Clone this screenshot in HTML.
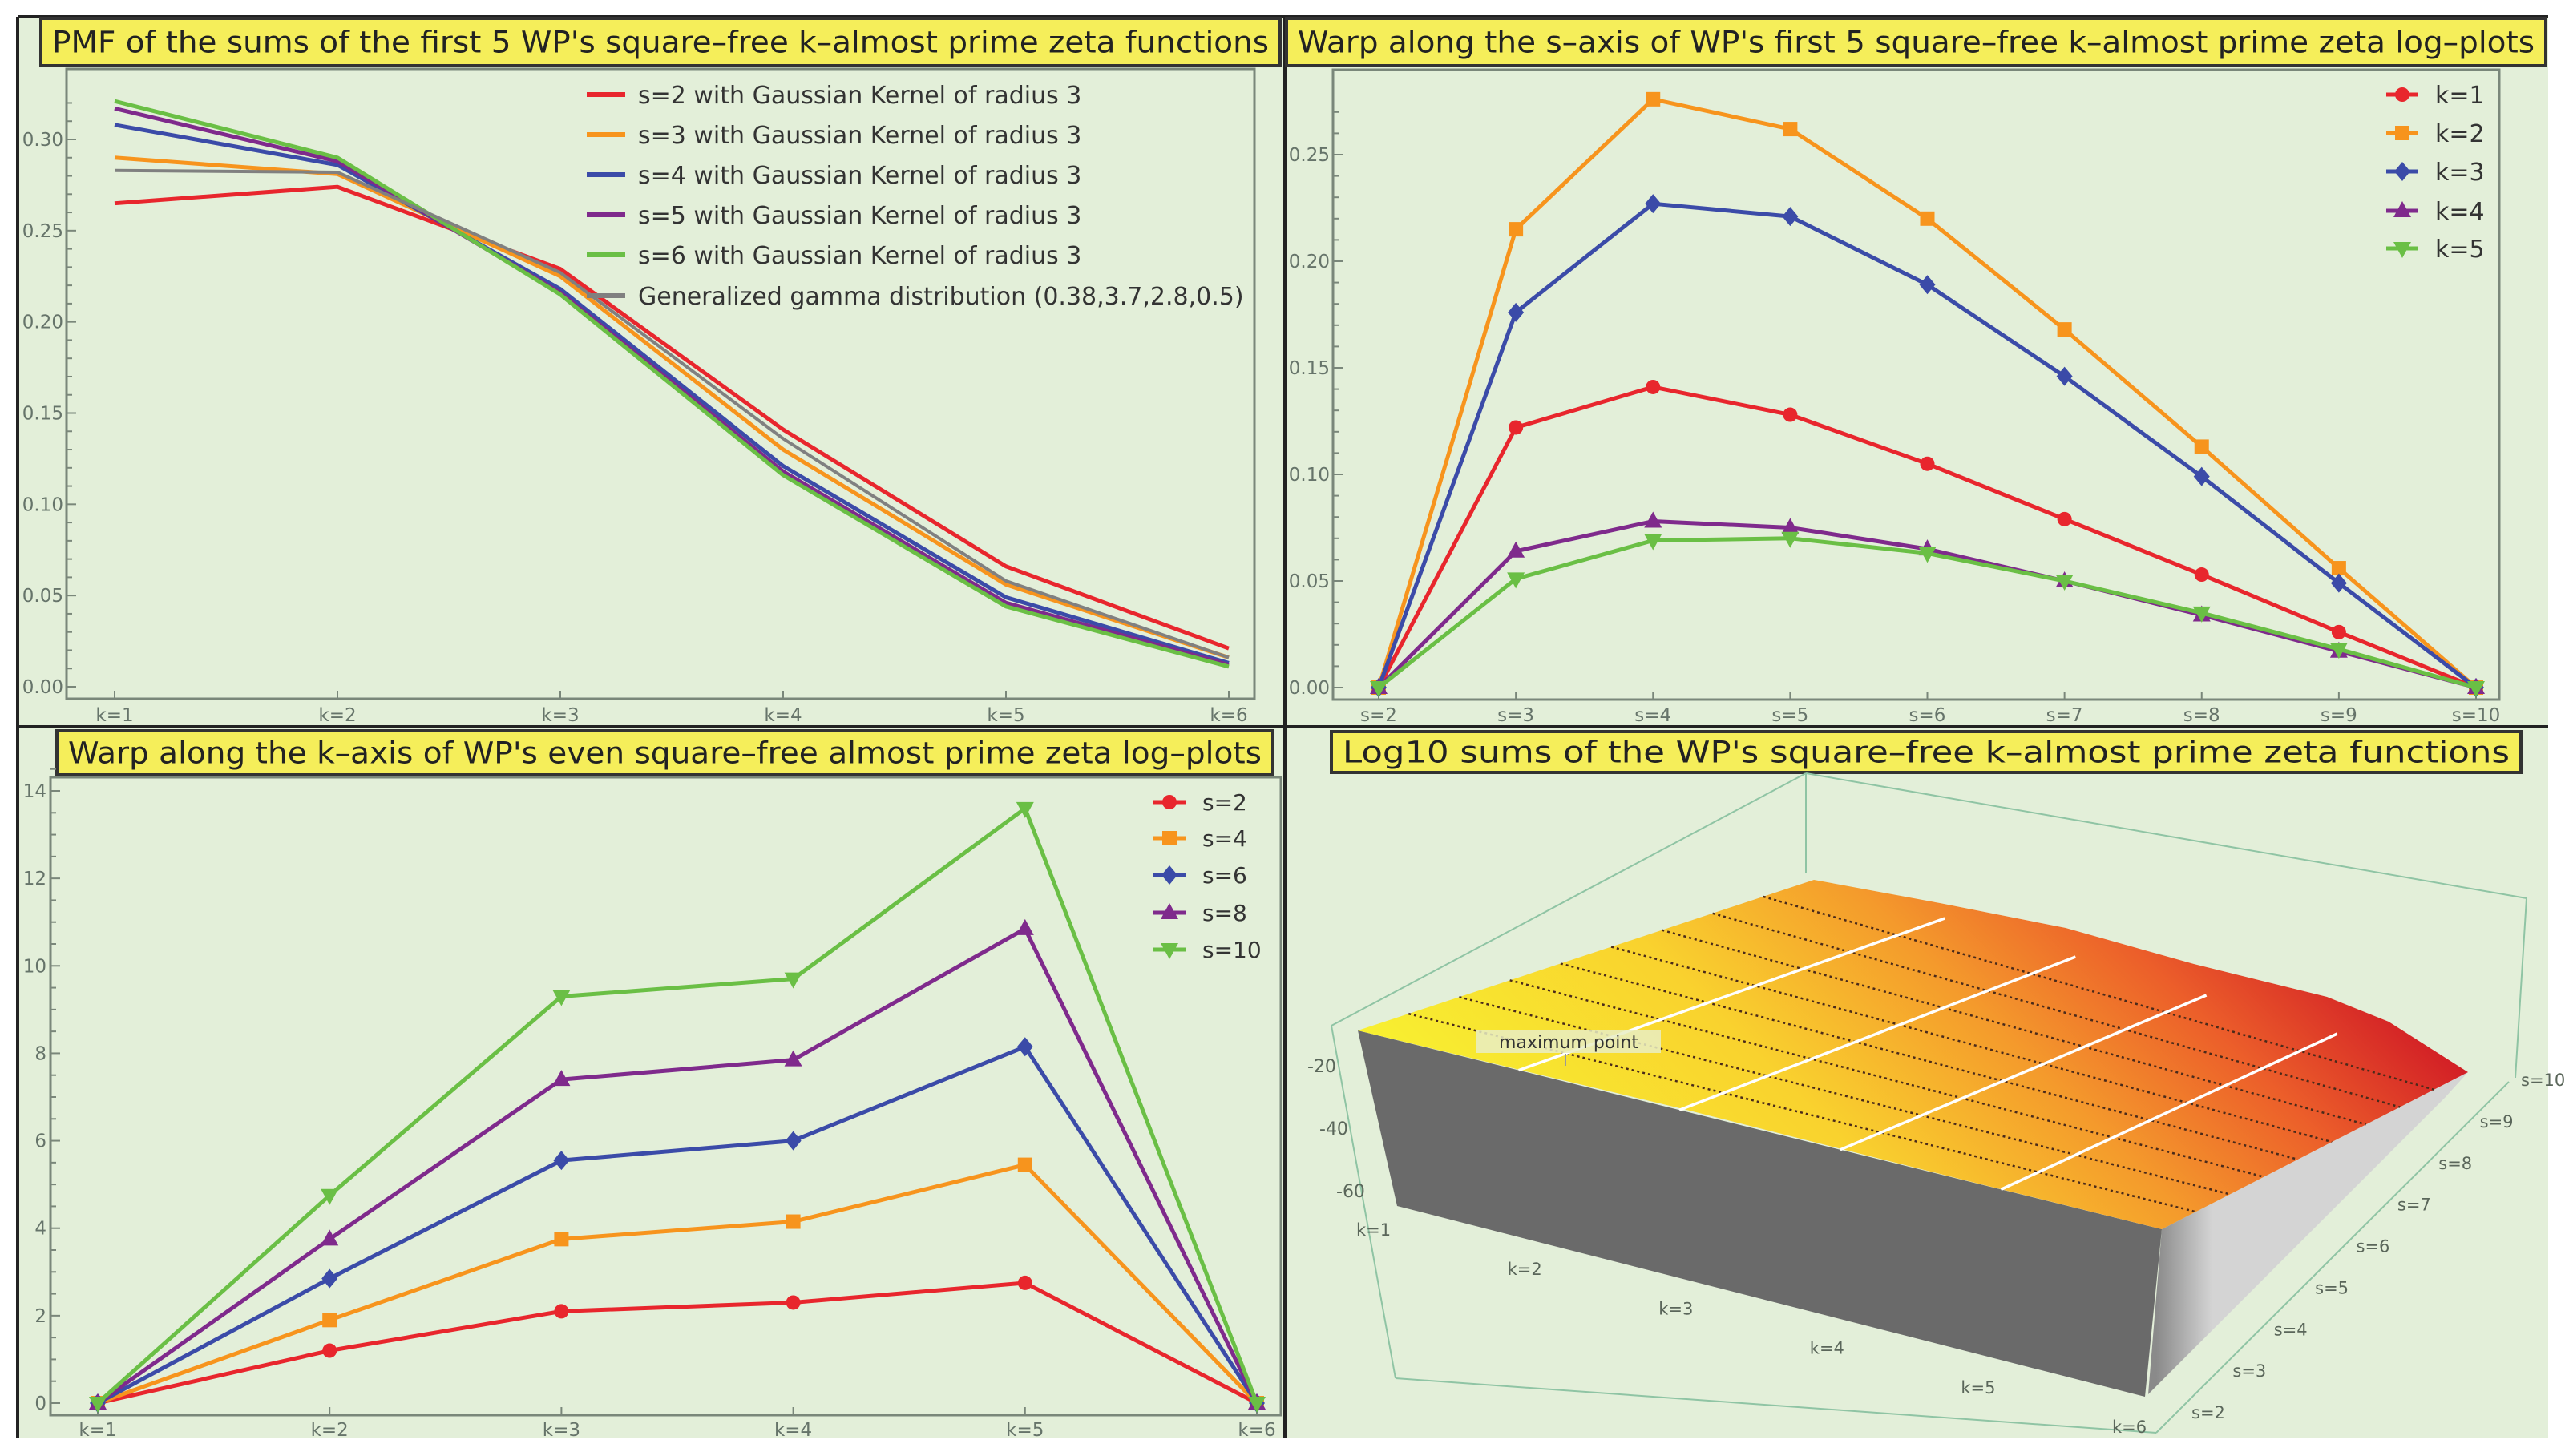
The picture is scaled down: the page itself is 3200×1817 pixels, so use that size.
<!DOCTYPE html>
<html><head><meta charset="utf-8"><style>
html,body{margin:0;padding:0;background:#fff}
svg{display:block}
text{font-family:"DejaVu Sans","Liberation Sans",sans-serif}
</style></head><body>
<svg id="root" width="3200" height="1817" viewBox="0 0 3200 1817" xmlns="http://www.w3.org/2000/svg">
<defs>
<linearGradient id="surf" x1="1694" y1="1286" x2="2361" y2="619" gradientUnits="userSpaceOnUse">
<stop offset="0" stop-color="#f8f030"/><stop offset="0.35" stop-color="#f9d22e"/><stop offset="0.6" stop-color="#f49a2c"/><stop offset="0.8" stop-color="#ec5f2a"/><stop offset="1" stop-color="#d21e26"/>
</linearGradient>
<linearGradient id="rface" x1="2690" y1="0" x2="2760" y2="0" gradientUnits="userSpaceOnUse">
<stop offset="0" stop-color="#8a8a8a"/><stop offset="1" stop-color="#d4d4d4"/>
</linearGradient>
</defs>
<rect x="22" y="21" width="3157" height="1774" fill="#e3efd9"/>
<g stroke="#222" stroke-width="4">
<line x1="22" y1="21" x2="3179" y2="21"/><line x1="22" y1="21" x2="22" y2="1795"/>
<line x1="1603" y1="21" x2="1603" y2="1795"/><line x1="22" y1="907" x2="3179" y2="907"/>
</g>
<g id="p1"></g>
<g id="p2"></g>
<g id="p3"></g>
<g id="p4"></g>
</svg>
<script>
// ---- Panel 1 data
const p1Cats = ["k=1","k=2","k=3","k=4","k=5","k=6"];
const p1Ticks = [0,0.05,0.10,0.15,0.20,0.25,0.30];
const p1S2 = [0.265,0.274,0.229,0.141,0.066,0.021];
const p1S3 = [0.290,0.281,0.225,0.130,0.056,0.016];
const p1S4 = [0.308,0.286,0.218,0.121,0.049,0.013];
const p1S5 = [0.317,0.288,0.216,0.118,0.046,0.012];
const p1S6 = [0.321,0.290,0.215,0.116,0.044,0.011];
const p1Gamma = [0.283,0.282,0.227,0.136,0.058,0.016];
const p1Labels = ["s=2 with Gaussian Kernel of radius 3","s=3 with Gaussian Kernel of radius 3","s=4 with Gaussian Kernel of radius 3","s=5 with Gaussian Kernel of radius 3","s=6 with Gaussian Kernel of radius 3","Generalized gamma distribution (0.38,3.7,2.8,0.5)"];
// ---- Panel 2 data
const p2Cats = ["s=2","s=3","s=4","s=5","s=6","s=7","s=8","s=9","s=10"];
const p2Ticks = [0,0.05,0.10,0.15,0.20,0.25];
const p2K1 = [0,0.122,0.141,0.128,0.105,0.079,0.053,0.026,0];
const p2K2 = [0,0.215,0.276,0.262,0.220,0.168,0.113,0.056,0];
const p2K3 = [0,0.176,0.227,0.221,0.189,0.146,0.099,0.049,0];
const p2K4 = [0,0.064,0.078,0.075,0.065,0.050,0.034,0.017,0];
const p2K5 = [0,0.051,0.069,0.070,0.063,0.050,0.035,0.018,0];
const p2Labels = ["k=1","k=2","k=3","k=4","k=5"];
// ---- Panel 3 data
const p3Cats = ["k=1","k=2","k=3","k=4","k=5","k=6"];
const p3Ticks = [0,2,4,6,8,10,12,14];
const p3S2 = [0,1.2,2.1,2.3,2.75,0];
const p3S4 = [0,1.9,3.75,4.15,5.45,0];
const p3S6 = [0,2.85,5.55,6.0,8.15,0];
const p3S8 = [0,3.75,7.4,7.85,10.85,0];
const p3S10 = [0,4.75,9.3,9.7,13.6,0];
const p3Labels = ["s=2","s=4","s=6","s=8","s=10"];
// ---- Panel 4 labels
const p4KLabels = ["k=1","k=2","k=3","k=4","k=5","k=6"];
const p4SLabels = ["s=2","s=3","s=4","s=5","s=6","s=7","s=8","s=9","s=10"];
const p4ZLabels = ["-20","-40","-60"];

const NS="http://www.w3.org/2000/svg";
function mk(parent,tag,attrs,txt){const e=document.createElementNS(NS,tag);for(const k in attrs)e.setAttribute(k,attrs[k]);if(txt!==undefined)e.textContent=txt;parent.appendChild(e);return e;}
const RED="#e8262d",ORG="#f7941d",BLU="#3b4ba8",PUR="#7f2a8c",GRN="#6abf45",GRY="#808080";

function title(g,x,y,w,h,t,name){
  const r=mk(g,"rect",{x:x,y:y,width:w,height:h,fill:"#f5ee5a",stroke:"#333","stroke-width":4});
  
  
  const tx=mk(g,"text",{x:x+w/2,y:y+h/2+13,"text-anchor":"middle","font-size":37,fill:"#222",textLength:w-28,lengthAdjust:"spacingAndGlyphs"},t);
  
  
}
function frame(g,x0,y0,x1,y1){
  const r=mk(g,"rect",{x:x0,y:y0,width:x1-x0,height:y1-y0,fill:"none",stroke:"#7a877a","stroke-width":3});
  
  
}
function marker(g,type,x,y,c){
  let e;
  if(type==="circle") e=mk(g,"circle",{cx:x,cy:y,r:9,fill:c});
  else if(type==="square") e=mk(g,"rect",{x:x-9,y:y-9,width:18,height:18,fill:c});
  else if(type==="diamond") e=mk(g,"polygon",{points:`${x},${y-12} ${x+10},${y} ${x},${y+12} ${x-10},${y}`,fill:c});
  else if(type==="up") e=mk(g,"polygon",{points:`${x},${y-12} ${x+11},${y+8} ${x-11},${y+8}`,fill:c});
  else e=mk(g,"polygon",{points:`${x},${y+12} ${x+11},${y-8} ${x-11},${y-8}`,fill:c});
  
  
}

// ===== Panel 1
(function(){
  const g=document.getElementById("p1");
  const X0=143,DX=(1533-143)/5, Y0=857, PY=(857-174)/0.30;
  const xs=i=>X0+i*DX, ys=v=>Y0-v*PY;
  frame(g,83,86,1565,872);
  title(g,51,23,1546,59,"PMF of the sums of the first 5 WP's square\u2013free k\u2013almost prime zeta functions","pmf-title");
  for(let v=0;v<=0.33;v+=0.01){mk(g,"line",{x1:83,x2:Math.abs(v*20-Math.round(v*20))<1e-6?95:90,y1:ys(v),y2:ys(v),stroke:"#7a877a","stroke-width":2});}
  p1Ticks.forEach(v=>{const t=mk(g,"text",{x:79,y:ys(v)+8,"text-anchor":"end","font-size":23,fill:"#66746a"},v.toFixed(2));
    });
  p1Cats.forEach((c,i)=>{mk(g,"line",{x1:xs(i),x2:xs(i),y1:872,y2:862,stroke:"#7a877a","stroke-width":2});
    const t=mk(g,"text",{x:xs(i),y:900,"text-anchor":"middle","font-size":23,fill:"#66746a"},c);
    });
  const series=[[p1S2,RED],[p1S3,ORG],[p1S4,BLU],[p1S5,PUR],[p1S6,GRN],[p1Gamma,GRY]];
  series.forEach(([d,c],si)=>{
    const p=mk(g,"polyline",{points:d.map((v,i)=>xs(i)+","+ys(v)).join(" "),fill:"none",stroke:c,"stroke-width":si==5?4:5,"stroke-linejoin":"round"});
    
  });
  const ly=[118,168,218,268,318,369];
  series.forEach(([d,c],si)=>{
    const le=mk(g,"g",{});
    
    mk(le,"line",{x1:732,x2:780,y1:ly[si],y2:ly[si],stroke:c,"stroke-width":6});
    mk(le,"text",{x:796,y:ly[si]+11,"font-size":30,fill:"#333"},p1Labels[si]);
  });
})();

// ===== Panel 2
(function(){
  const g=document.getElementById("p2");
  const X0=1720,DX=(3089-1720)/8,Y0=858,PY=(858-193)/0.25;
  const xs=i=>X0+i*DX, ys=v=>Y0-v*PY;
  frame(g,1663,87,3118,873);
  title(g,1605,23,1571,59,"Warp along the s\u2013axis of WP's first 5 square\u2013free k\u2013almost prime zeta log\u2013plots","s-warp-title");
  for(let v=0;v<=0.28;v+=0.01){mk(g,"line",{x1:1663,x2:Math.abs(v*20-Math.round(v*20))<1e-6?1675:1670,y1:ys(v),y2:ys(v),stroke:"#7a877a","stroke-width":2});}
  p2Ticks.forEach(v=>{const t=mk(g,"text",{x:1659,y:ys(v)+8,"text-anchor":"end","font-size":23,fill:"#66746a"},v.toFixed(2));
    });
  p2Cats.forEach((c,i)=>{mk(g,"line",{x1:xs(i),x2:xs(i),y1:873,y2:863,stroke:"#7a877a","stroke-width":2});
    const t=mk(g,"text",{x:xs(i),y:900,"text-anchor":"middle","font-size":23,fill:"#66746a"},c);
    });
  const series=[[p2K1,RED,"circle"],[p2K2,ORG,"square"],[p2K3,BLU,"diamond"],[p2K4,PUR,"up"],[p2K5,GRN,"down"]];
  series.forEach(([d,c,m])=>{
    const p=mk(g,"polyline",{points:d.map((v,i)=>xs(i)+","+ys(v)).join(" "),fill:"none",stroke:c,"stroke-width":5,"stroke-linejoin":"round"});
    
    d.forEach((v,i)=>marker(g,m,xs(i),ys(v),c));
  });
  const ly=[118,166,214,263,310];
  series.forEach(([d,c,m],si)=>{
    const le=mk(g,"g",{});
    
    mk(le,"line",{x1:2977,x2:3017,y1:ly[si],y2:ly[si],stroke:c,"stroke-width":5});
    marker(le,m,2997,ly[si],c);
    mk(le,"text",{x:3038,y:ly[si]+11,"font-size":30,fill:"#333"},p2Labels[si]);
  });
})();

// ===== Panel 3
(function(){
  const g=document.getElementById("p3");
  const X0=122,DX=(1568-122)/5,Y0=1751,PY=(1751-987)/14;
  const xs=i=>X0+i*DX, ys=v=>Y0-v*PY;
  frame(g,63,970,1598,1766);
  title(g,71,912,1517,55,"Warp along the k\u2013axis of WP's even square\u2013free almost prime zeta log\u2013plots","k-warp-title");
  for(let v=0;v<=14.5;v+=0.5){mk(g,"line",{x1:63,x2:(v%2===0)?75:70,y1:ys(v),y2:ys(v),stroke:"#7a877a","stroke-width":2});}
  p3Ticks.forEach(v=>{const t=mk(g,"text",{x:58,y:ys(v)+8,"text-anchor":"end","font-size":23,fill:"#66746a"},String(v));
    });
  p3Cats.forEach((c,i)=>{mk(g,"line",{x1:xs(i),x2:xs(i),y1:1766,y2:1756,stroke:"#7a877a","stroke-width":2});
    const t=mk(g,"text",{x:xs(i),y:1792,"text-anchor":"middle","font-size":23,fill:"#66746a"},c);
    });
  const series=[[p3S2,RED,"circle"],[p3S4,ORG,"square"],[p3S6,BLU,"diamond"],[p3S8,PUR,"up"],[p3S10,GRN,"down"]];
  series.forEach(([d,c,m])=>{
    const p=mk(g,"polyline",{points:d.map((v,i)=>xs(i)+","+ys(v)).join(" "),fill:"none",stroke:c,"stroke-width":5,"stroke-linejoin":"round"});
    
    d.forEach((v,i)=>marker(g,m,xs(i),ys(v),c));
  });
  const ly=[1001,1046,1092,1139,1185];
  series.forEach(([d,c,m],si)=>{
    const le=mk(g,"g",{});
    
    mk(le,"line",{x1:1439,x2:1479,y1:ly[si],y2:ly[si],stroke:c,"stroke-width":5});
    marker(le,m,1459,ly[si],c);
    mk(le,"text",{x:1500,y:ly[si]+10,"font-size":28,fill:"#333"},p3Labels[si]);
  });
})();

// ===== Panel 4 (3D surface)
(function(){
  const g=document.getElementById("p4");
  title(g,1661,913,1484,51,"Log10 sums of the WP's square\u2013free k\u2013almost prime zeta functions","surface-title");
  const bs={stroke:"#8fc4a4","stroke-width":2,fill:"none"};
  [[1661,1280,2253,965],[2253,965,3152,1121],[2253,965,2253,1090],[1661,1280,1741,1720],[1741,1720,2690,1788],[3152,1121,3138,1345],[2690,1788,3130,1350]].forEach(l=>{
    const e=mk(g,"line",Object.assign({x1:l[0],y1:l[1],x2:l[2],y2:l[3]},bs));
    
  });
  const FL=[1694,1286],BL=[2263,1098],BR=[3079,1338],FR=[2697,1534];
  const ff=mk(g,"polygon",{points:`${FL} 1743,1505 2676,1743 ${FR}`,fill:"#6a6a6a"});
  
  const rf=mk(g,"polygon",{points:`${FR} ${BR} 3050,1370 2680,1740`,fill:"url(#rface)"});
  
  const top=mk(g,"polygon",{points:`${FL} ${BL} 2420,1127 2577,1158 2737,1203 2903,1244 2980,1275 ${BR} ${FR} 2480,1480 2290,1432 2100,1384 1900,1336`,fill:"url(#surf)"});
  
  const lerp=(a,b,t)=>[a[0]+(b[0]-a[0])*t,a[1]+(b[1]-a[1])*t];
  for(let i=1;i<=8;i++){const t=i/9;const a=lerp(FL,BL,t),b=lerp(FR,BR,t);
    const e=mk(g,"line",{x1:a[0],y1:a[1],x2:b[0],y2:b[1],stroke:"#4a2a1a","stroke-width":2.5,"stroke-dasharray":"3,4"});
    }
  for(let i=1;i<=4;i++){const t=i/5;const a=lerp(FL,FR,t),b=lerp(BL,BR,t);
    const e=mk(g,"line",{x1:a[0],y1:a[1],x2:b[0],y2:b[1],stroke:"#fff","stroke-width":3.5});
    }
  const mb=mk(g,"rect",{x:1842,y:1286,width:230,height:28,fill:"#e9edc4",opacity:0.85});
  
  const mt=mk(g,"text",{x:1957,y:1308,"text-anchor":"middle","font-size":22,fill:"#333"},"maximum point");
  
  mk(g,"line",{x1:1953,y1:1315,x2:1953,y2:1330,stroke:"#999","stroke-width":2});
  const zp=[[1631,1338],[1646,1416],[1667,1494]];
  p4ZLabels.forEach((l,i)=>{const t=mk(g,"text",{x:zp[i][0],y:zp[i][1],"font-size":22,fill:"#5a665a"},l);
    });
  p4KLabels.forEach((l,i)=>{const x=1692+i*(2635-1692)/5,y=1542+i*(1788-1542)/5;
    const t=mk(g,"text",{x:x,y:y,"font-size":21,fill:"#5a665a"},l);
    });
  p4SLabels.forEach((l,i)=>{const x=2734+i*(3145-2734)/8,y=1770-i*(1770-1355)/8;
    const t=mk(g,"text",{x:x,y:y,"font-size":21,fill:"#5a665a"},l);
    });
})();
</script>
</body></html>
